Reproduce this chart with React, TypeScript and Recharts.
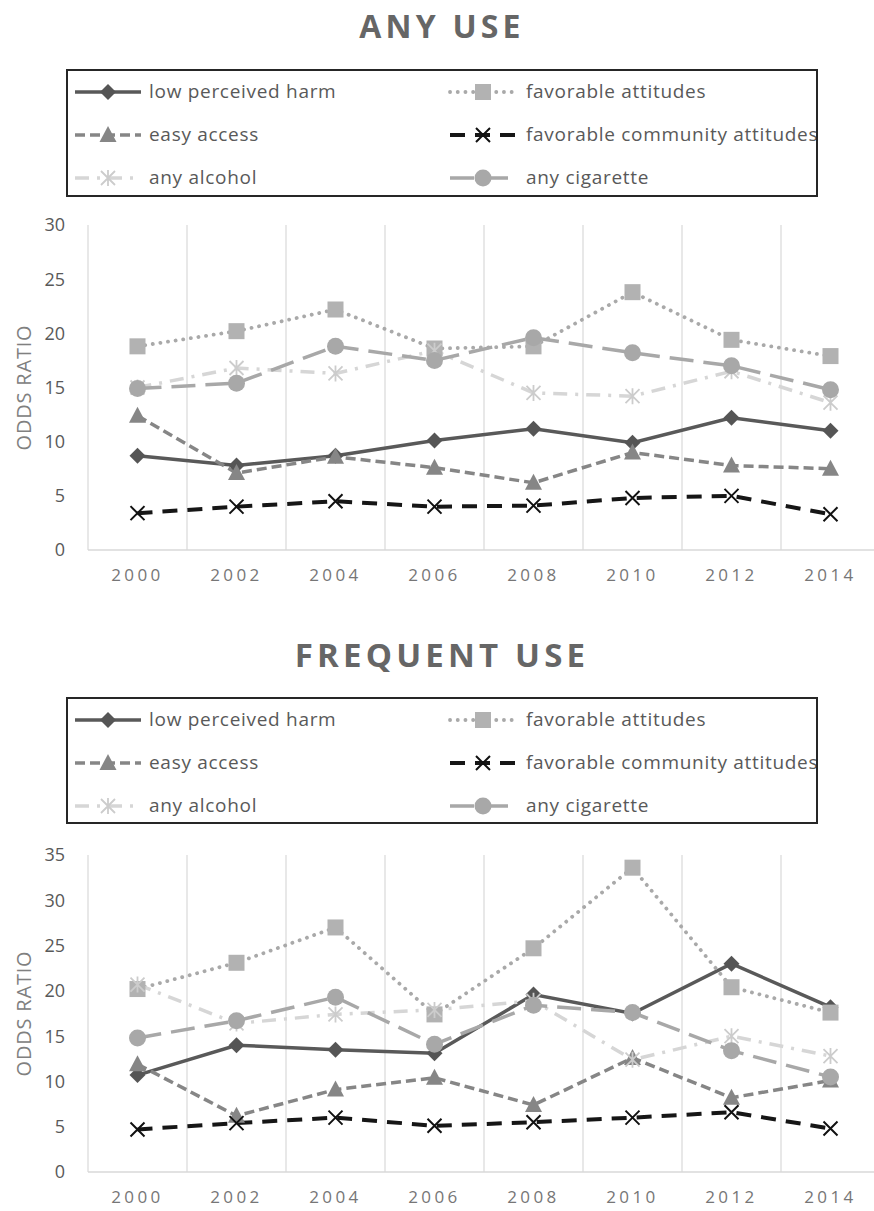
import React from 'react';
import { LineChart, Line, XAxis, YAxis, CartesianGrid, Legend } from 'recharts';

// ---------- data ----------
const years = ['2000', '2002', '2004', '2006', '2008', '2010', '2012', '2014'];

const anyLowHarm = [8.7, 7.8, 8.7, 10.1, 11.2, 9.9, 12.2, 11.0];
const anyFavAttitudes = [18.8, 20.2, 22.2, 18.6, 18.8, 23.8, 19.4, 17.9];
const anyEasyAccess = [12.4, 7.1, 8.6, 7.6, 6.2, 9.0, 7.8, 7.5];
const anyCommunity = [3.4, 4.0, 4.5, 4.0, 4.1, 4.8, 5.0, 3.3];
const anyAlcohol = [15.0, 16.8, 16.3, 18.4, 14.5, 14.2, 16.5, 13.6];
const anyCigarette = [14.9, 15.4, 18.8, 17.5, 19.6, 18.2, 17.0, 14.8];

const freqLowHarm = [10.7, 14.0, 13.5, 13.1, 19.6, 17.5, 23.0, 18.2];
const freqFavAttitudes = [20.2, 23.1, 27.0, 17.4, 24.7, 33.6, 20.4, 17.6];
const freqEasyAccess = [11.9, 6.2, 9.1, 10.4, 7.4, 12.6, 8.2, 10.1];
const freqCommunity = [4.7, 5.4, 6.0, 5.1, 5.5, 6.0, 6.6, 4.8];
const freqAlcohol = [20.7, 16.4, 17.4, 17.9, 18.9, 12.4, 15.0, 12.8];
const freqCigarette = [14.8, 16.7, 19.3, 14.1, 18.4, 17.6, 13.4, 10.5];

const anyTicks = [0, 5, 10, 15, 20, 25, 30];
const freqTicks = [0, 5, 10, 15, 20, 25, 30, 35];

const seriesKeys = ['lph', 'fav', 'easy', 'comm', 'alc', 'cig'];
const seriesNames: Record<string, string> = {
  lph: 'low perceived harm',
  fav: 'favorable attitudes',
  easy: 'easy access',
  comm: 'favorable community attitudes',
  alc: 'any alcohol',
  cig: 'any cigarette',
};

function buildRows(s: number[][]) {
  return years.map((y, i) => ({
    x: i,
    year: y,
    lph: s[0][i],
    fav: s[1][i],
    easy: s[2][i],
    comm: s[3][i],
    alc: s[4][i],
    cig: s[5][i],
  }));
}

const anyData = buildRows([anyLowHarm, anyFavAttitudes, anyEasyAccess, anyCommunity, anyAlcohol, anyCigarette]);
const freqData = buildRows([freqLowHarm, freqFavAttitudes, freqEasyAccess, freqCommunity, freqAlcohol, freqCigarette]);

// ---------- styles ----------
type Sty = { color: string; marker: string; markerColor: string; width: number; dash?: string; cap?: 'round' | 'butt' };
const styles: Record<string, Sty> = {
  lph: { color: '#595959', marker: 'diamond', markerColor: '#555555', width: 3.5 },
  fav: { color: '#a9a9a9', marker: 'square', markerColor: '#b2b2b2', width: 3.8, dash: '0.1 7.6', cap: 'round' },
  easy: { color: '#868686', marker: 'triangle', markerColor: '#868686', width: 3.5, dash: '10 5' },
  comm: { color: '#161616', marker: 'x', markerColor: '#111111', width: 4, dash: '15 10' },
  alc: { color: '#d6d6d6', marker: 'asterisk', markerColor: '#cccccc', width: 3.5, dash: '14 8 3 8' },
  cig: { color: '#a8a8a8', marker: 'circle', markerColor: '#a8a8a8', width: 3.5, dash: '24 10' },
};

const FONT = '"Open Sans", "Noto Sans", sans-serif';

function Marker({ shape, cx, cy, color }: { shape: string; cx: number; cy: number; color: string }) {
  switch (shape) {
    case 'diamond': {
      const s = 8;
      return <path d={`M${cx},${cy - s}L${cx + s},${cy}L${cx},${cy + s}L${cx - s},${cy}Z`} fill={color} />;
    }
    case 'square':
      return <rect x={cx - 8} y={cy - 8} width={16} height={16} fill={color} />;
    case 'triangle':
      return <path d={`M${cx},${cy - 9}L${cx + 8.5},${cy + 7}L${cx - 8.5},${cy + 7}Z`} fill={color} />;
    case 'circle':
      return <circle cx={cx} cy={cy} r={8.5} fill={color} />;
    case 'x': {
      const s = 7;
      return (
        <path
          d={`M${cx - s},${cy - s}L${cx + s},${cy + s}M${cx + s},${cy - s}L${cx - s},${cy + s}`}
          stroke={color}
          strokeWidth={2}
          fill="none"
        />
      );
    }
    case 'asterisk': {
      const s = 7;
      return (
        <path
          d={`M${cx - s},${cy - s}L${cx + s},${cy + s}M${cx + s},${cy - s}L${cx - s},${cy + s}M${cx},${cy - s - 1}L${cx},${cy + s + 1}`}
          stroke={color}
          strokeWidth={1.8}
          fill="none"
        />
      );
    }
    default:
      return null;
  }
}

function makeDot(key: string) {
  const st = styles[key];
  return (p: any) => {
    if (p == null || p.cx == null || p.cy == null || p.value == null) return <g key={`e-${key}-${p?.index}`} />;
    return (
      <g key={`d-${key}-${p.index}`}>
        <Marker shape={st.marker} cx={p.cx} cy={p.cy} color={st.markerColor} />
      </g>
    );
  };
}

// legend layout (relative to the legend box)
const legendCols = [
  { icon: 7, text: 81 },
  { icon: 382, text: 458 },
];
const legendRows = [21, 64, 107];

function LegendBox(props: any) {
  const payload: any[] = props.payload || [];
  const ordered = seriesKeys
    .map((k) => payload.find((p) => p.dataKey === k))
    .filter(Boolean);
  return (
    <div
      style={{
        position: 'relative',
        width: 752,
        height: props.boxHeight,
        border: '2px solid #262626',
        boxSizing: 'border-box',
        background: '#fff',
        overflow: 'hidden',
        fontFamily: FONT,
        fontSize: 19,
        letterSpacing: 0.7,
        color: '#595959',
      }}
    >
      {ordered.map((p: any, i: number) => {
        const key = p.dataKey as string;
        const st = styles[key];
        const col = legendCols[i % 2];
        const row = legendRows[Math.floor(i / 2)];
        return (
          <React.Fragment key={key}>
            <svg
              width={66}
              height={22}
              style={{ position: 'absolute', left: col.icon, top: row - 11, overflow: 'visible' }}
            >
              <line
                x1={0}
                x2={66}
                y1={11}
                y2={11}
                stroke={st.color}
                strokeWidth={st.width}
                strokeDasharray={st.dash}
                strokeLinecap={st.cap || 'butt'}
              />
              <Marker shape={st.marker} cx={33} cy={11} color={st.markerColor} />
            </svg>
            <div
              style={{
                position: 'absolute',
                left: col.text,
                top: row - 13,
                lineHeight: '24px',
                whiteSpace: 'nowrap',
              }}
            >
              {seriesNames[key]}
            </div>
          </React.Fragment>
        );
      })}
    </div>
  );
}

function YLabel(props: any) {
  const vb = props.viewBox || {};
  const x = 23;
  const y = (vb.y || 0) + (vb.height || 0) / 2;
  return (
    <text
      x={x}
      y={y}
      transform={`rotate(-90, ${x}, ${y})`}
      textAnchor="middle"
      dominantBaseline="central"
      fontFamily={FONT}
      fontSize={20}
      letterSpacing={0.8}
      fill="#808080"
    >
      ODDS RATIO
    </text>
  );
}

type PanelProps = {
  data: any[];
  top: number;
  height: number;
  marginTop: number;
  marginBottom: number;
  ticks: number[];
  legendTop: number;
  legendHeight: number;
};

const gridTicks = [-0.5, 0.5, 1.5, 2.5, 3.5, 4.5, 5.5, 6.5, 7.5];
const catTicks = years.map((_, i) => i);

function Panel({ data, top, height, marginTop, marginBottom, ticks, legendTop, legendHeight }: PanelProps) {
  const maxY = ticks[ticks.length - 1];
  return (
    <div style={{ position: 'absolute', left: 0, top, width: 900, height }}>
      <LineChart
        width={900}
        height={height}
        data={data}
        margin={{ top: marginTop, right: 20, bottom: marginBottom, left: 0 }}
      >
        <XAxis xAxisId="grid" type="number" dataKey="x" domain={[-0.5, 7.5]} ticks={gridTicks} hide />
        <CartesianGrid xAxisId="grid" horizontal={false} stroke="#d9d9d9" strokeWidth={1.2} />
        <XAxis
          type="number"
          dataKey="x"
          domain={[-0.5, 7.5]}
          ticks={catTicks}
          tickFormatter={(v: number) => years[v]}
          height={30}
          tickLine={false}
          tickSize={0}
          tickMargin={19}
          axisLine={{ stroke: '#d9d9d9', strokeWidth: 1.5 }}
          tick={{ fontFamily: FONT, fontSize: 17, fill: '#767676', letterSpacing: 3.4 }}
          interval={0}
        />
        <YAxis
          type="number"
          domain={[0, maxY]}
          ticks={ticks}
          width={88}
          axisLine={false}
          tickLine={false}
          tickSize={0}
          tickMargin={23}
          tick={{ fontFamily: FONT, fontSize: 18, fill: '#595959' }}
          label={<YLabel />}
          interval={0}
        />
        <Legend
          layout="horizontal"
          verticalAlign="middle"
          align="center"
          wrapperStyle={{ position: 'absolute', top: legendTop, left: 66, width: 752, height: legendHeight }}
          content={(p: any) => <LegendBox {...p} boxHeight={legendHeight} />}
        />
        {seriesKeys.map((k) => {
          const st = styles[k];
          return (
            <Line
              key={k}
              type="linear"
              dataKey={k}
              name={seriesNames[k]}
              stroke={st.color}
              strokeWidth={st.width}
              strokeDasharray={st.dash}
              strokeLinecap={st.cap || 'butt'}
              dot={makeDot(k)}
              activeDot={false}
              isAnimationActive={false}
            />
          );
        })}
      </LineChart>
    </div>
  );
}

export default function App() {
  return (
    <div
      style={{
        position: 'absolute',
        left: 0,
        top: 0,
        width: 874,
        height: 1211,
        overflow: 'hidden',
        background: '#fff',
      }}
    >
      <Panel
        data={anyData}
        top={0}
        height={600}
        marginTop={225}
        marginBottom={20}
        ticks={anyTicks}
        legendTop={69}
        legendHeight={128}
      />
      <Panel
        data={freqData}
        top={600}
        height={611}
        marginTop={255}
        marginBottom={9}
        ticks={freqTicks}
        legendTop={97}
        legendHeight={127}
      />
      <svg
        width={874}
        height={1211}
        style={{ position: 'absolute', left: 0, top: 0, pointerEvents: 'none' }}
      >
        <text x={442} y={38} textAnchor="middle" fontFamily={FONT} fontWeight={700} fontSize={32} letterSpacing={4.2} fill="#666666">
          ANY USE
        </text>
        <text x={442} y={667} textAnchor="middle" fontFamily={FONT} fontWeight={700} fontSize={33} letterSpacing={4.2} fill="#666666">
          FREQUENT USE
        </text>
      </svg>
    </div>
  );
}
